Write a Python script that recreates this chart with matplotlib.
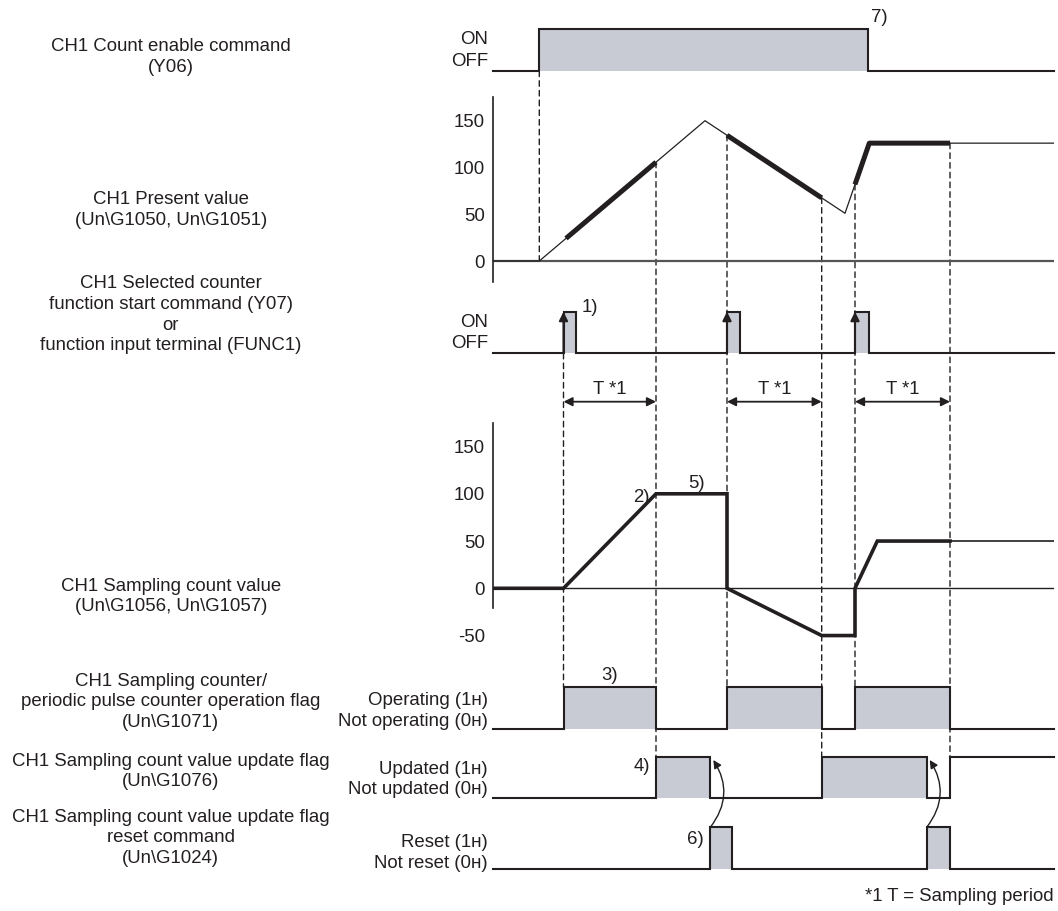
import numpy as np
import matplotlib
matplotlib.use('Agg')
import matplotlib.pyplot as plt
from matplotlib.patches import ConnectionPatch

plt.rcParams['font.family'] = ['Liberation Sans', 'DejaVu Sans']
plt.rcParams['axes.unicode_minus'] = False

INK = '#231f20'
FILL = '#c8cbd3'
FS = 13.4

# time axis, common to every row
t_begin, t_end = 493.3, 1054.0
enable_on, enable_off = 539.3, 867.7
start_pulses = [563.5, 727.0, 855.0]
pulse_ends = [576.3, 739.7, 869.0]
sample_ends = [656.0, 821.7, 950.0]
updated_off = [710.3, 926.7]
reset_off = [732.3, 950.0]

# CH1 present value
pv_t = [493.3, 539.3, 705.0, 845.0, 869.3, 1054.0]
pv_v = [0, 0, 150, 51, 126, 126]
pv_ticks = [0, 50, 100, 150]

# CH1 sampling count value
sc_t = [493.3, 563.5, 656.0, 727.0, 727.0, 821.7, 855.0, 855.0, 877.3, 1054.0]
sc_v = [0, 0, 100, 100, 0, -50, -50, 0, 50, 50]
sc_ticks = [-50, 0, 50, 100, 150]

W, H = 1058, 911
fig = plt.figure(figsize=(W / 100, H / 100), dpi=100)

# overlay in pixel units for the digital rows and texts
ov = fig.add_axes([0, 0, 1, 1], zorder=0)
ov.set_xlim(0, W)
ov.set_ylim(H, 0)
ov.axis('off')
ov.patch.set_alpha(0)


def value_axes(y_zero, ppu, y_top, y_bot, spine_top, spine_bot, ticks):
    ax = fig.add_axes([t_begin / W, (H - y_bot) / H, (t_end - t_begin) / W, (y_bot - y_top) / H], zorder=1)
    ax.set_xlim(t_begin, t_end)
    ax.set_ylim((y_zero - y_bot) / ppu, (y_zero - y_top) / ppu)
    ax.patch.set_alpha(0)
    for s in ['top', 'right', 'bottom']:
        ax.spines[s].set_visible(False)
    ax.spines['left'].set_color(INK)
    ax.spines['left'].set_linewidth(1.2)
    ax.spines['left'].set_bounds((y_zero - spine_bot) / ppu, (y_zero - spine_top) / ppu)
    ax.set_xticks([])
    ax.set_yticks(ticks)
    ax.tick_params(axis='y', length=0, pad=6, labelsize=FS, labelcolor=INK)
    return ax


def thick_part(t, v, a, b):
    xs = [a] + [x for x in t if a < x < b] + [b]
    ys = [np.interp(a, t, v)] + [y for x, y in zip(t, v) if a < x < b] + [np.interp(b, t, v)]
    return xs, ys


# present value
ax_pv = value_axes(261.0, 0.9353, 96.7, 281.7, 96.7, 281.7, pv_ticks)
ax_pv.axhline(0, color='#555555', lw=1.6)
ax_pv.plot(pv_t, pv_v, color=INK, lw=0.9)
for a, b in zip([566.0] + start_pulses[1:], sample_ends):
    xs, ys = thick_part(pv_t, pv_v, a, b)
    ax_pv.plot(xs, ys, color=INK, lw=3.6, solid_capstyle='butt')

# sampling count value
ax_sc = value_axes(588.3, 0.945, 423.3, 650.0, 423.3, 608.3, sc_ticks)
ax_sc.axhline(0, color=INK, lw=1.0)
cut = sample_ends[-1]
xs = [x for x in sc_t if x <= cut] + [cut]
ys = [y for x, y in zip(sc_t, sc_v) if x <= cut] + [sc_v[-1]]
ax_sc.plot(xs, ys, color=INK, lw=2.6, solid_joinstyle='miter')
ax_sc.plot([cut, sc_t[-1]], [sc_v[-1], sc_v[-1]], color=INK, lw=1.2)


def digital(low, high, intervals, fill=None):
    if fill is None:
        fill = [True] * len(intervals)
    xs, ys = [t_begin], [low]
    for (a, b), f in zip(intervals, fill):
        if f:
            ov.fill_between([a, b], high, low, color=FILL, lw=0)
        xs += [a, a, b, b]
        ys += [low, high, high, low]
    if intervals[-1][1] >= t_end:
        xs, ys = xs[:-1], ys[:-1]
    else:
        xs.append(t_end)
        ys.append(low)
    ov.plot(xs, ys, color=INK, lw=1.5, solid_joinstyle='miter')


rows = {
    'enable': (71.0, 29.3),
    'start': (353.3, 311.7),
    'oper': (729.0, 687.3),
    'upd': (797.7, 756.7),
    'reset': (869.0, 827.3),
}
digital(*rows['enable'], [(enable_on, enable_off)])
digital(*rows['start'], list(zip(start_pulses, pulse_ends)))
digital(*rows['oper'], list(zip(start_pulses, sample_ends)))
digital(*rows['upd'], list(zip(sample_ends, updated_off + [t_end])), fill=[True, True, False])
digital(*rows['reset'], list(zip(updated_off, reset_off)))

# arrows on the start pulses
lo, hi = rows['start']
for a in start_pulses:
    ov.annotate('', xy=(a, hi), xytext=(a, lo),
                arrowprops=dict(arrowstyle='-|>', color=INK, lw=1.5, mutation_scale=13,
                                shrinkA=0, shrinkB=0))

# sampling period arrows
for a, b in zip(start_pulses, sample_ends):
    ov.annotate('', xy=(b, 401.7), xytext=(a, 401.7),
                arrowprops=dict(arrowstyle='<|-|>', color=INK, lw=1.3, mutation_scale=13,
                                shrinkA=0, shrinkB=0))
    ov.text((a + b) / 2, 390, 'T *1', ha='center', va='center', fontsize=FS, color=INK)

# reset -> update flag curved arrows
for a in updated_off:
    ov.annotate('', xy=(a + 3, 760), xytext=(a, rows['reset'][1]),
                arrowprops=dict(arrowstyle='-|>', color=INK, lw=1.0, mutation_scale=12,
                                shrinkA=0, shrinkB=0, connectionstyle='arc3,rad=0.35'))

# dashed guide lines
dash = dict(color=INK, lw=1.0, linestyle=(0, (4, 3)), zorder=0.5)


def guide(t, top, top_ax, bot, bot_ax):
    cp = ConnectionPatch(xyA=(t, top), coordsA=top_ax.transData,
                         xyB=(t, bot), coordsB=bot_ax.transData, **dash)
    ov.add_artist(cp)


guide(enable_on, rows['enable'][0], ov, 0, ax_pv)
guide(start_pulses[0], rows['start'][0], ov, rows['oper'][1], ov)
for t in start_pulses[1:]:
    guide(t, np.interp(t, pv_t, pv_v), ax_pv, rows['oper'][1], ov)
for t in sample_ends:
    guide(t, np.interp(t, pv_t, pv_v), ax_pv, rows['upd'][1], ov)

# left descriptions
labels = [
    ("CH1 Count enable command\n(Y06)", 57),
    ("CH1 Present value\n(Un\\G1050, Un\\G1051)", 210),
    ("CH1 Selected counter\nfunction start command (Y07)\nor\nfunction input terminal (FUNC1)", 314.6),
    ("CH1 Sampling count value\n(Un\\G1056, Un\\G1057)", 596.5),
    ("CH1 Sampling counter/\nperiodic pulse counter operation flag\n(Un\\G1071)", 702),
    ("CH1 Sampling count value update flag\n(Un\\G1076)", 771.5),
    ("CH1 Sampling count value update flag\nreset command\n(Un\\G1024)", 838),
]
for txt, y in labels:
    ov.text(170.7, y, txt, ha='center', va='center', fontsize=FS, color=INK, linespacing=1.3)

states = [
    ("ON", 40), ("OFF", 61), ("ON", 322.3), ("OFF", 343.3),
    ("Operating (1\u029c)", 700.7), ("Not operating (0\u029c)", 721.7),
    ("Updated (1\u029c)", 769), ("Not updated (0\u029c)", 790),
    ("Reset (1\u029c)", 842.3), ("Not reset (0\u029c)", 863.3),
]
for txt, y in states:
    ov.text(488, y, txt, ha='right', va='center', fontsize=FS, color=INK)

notes = [("7)", 879, 18), ("1)", 590, 308), ("5)", 697, 483), ("3)", 610, 676),
         ("4)", 641.7, 766.7), ("6)", 695, 839)]
for txt, x, y in notes:
    ov.text(x, y, txt, ha='center', va='center', fontsize=FS, color=INK)
ov.text(650, 497, "2)", ha='right', va='center', fontsize=FS, color=INK)

ov.text(1054, 896.7, "*1 T = Sampling period", ha='right', va='center', fontsize=FS, color=INK)

fig.savefig('out.png', dpi=100)
